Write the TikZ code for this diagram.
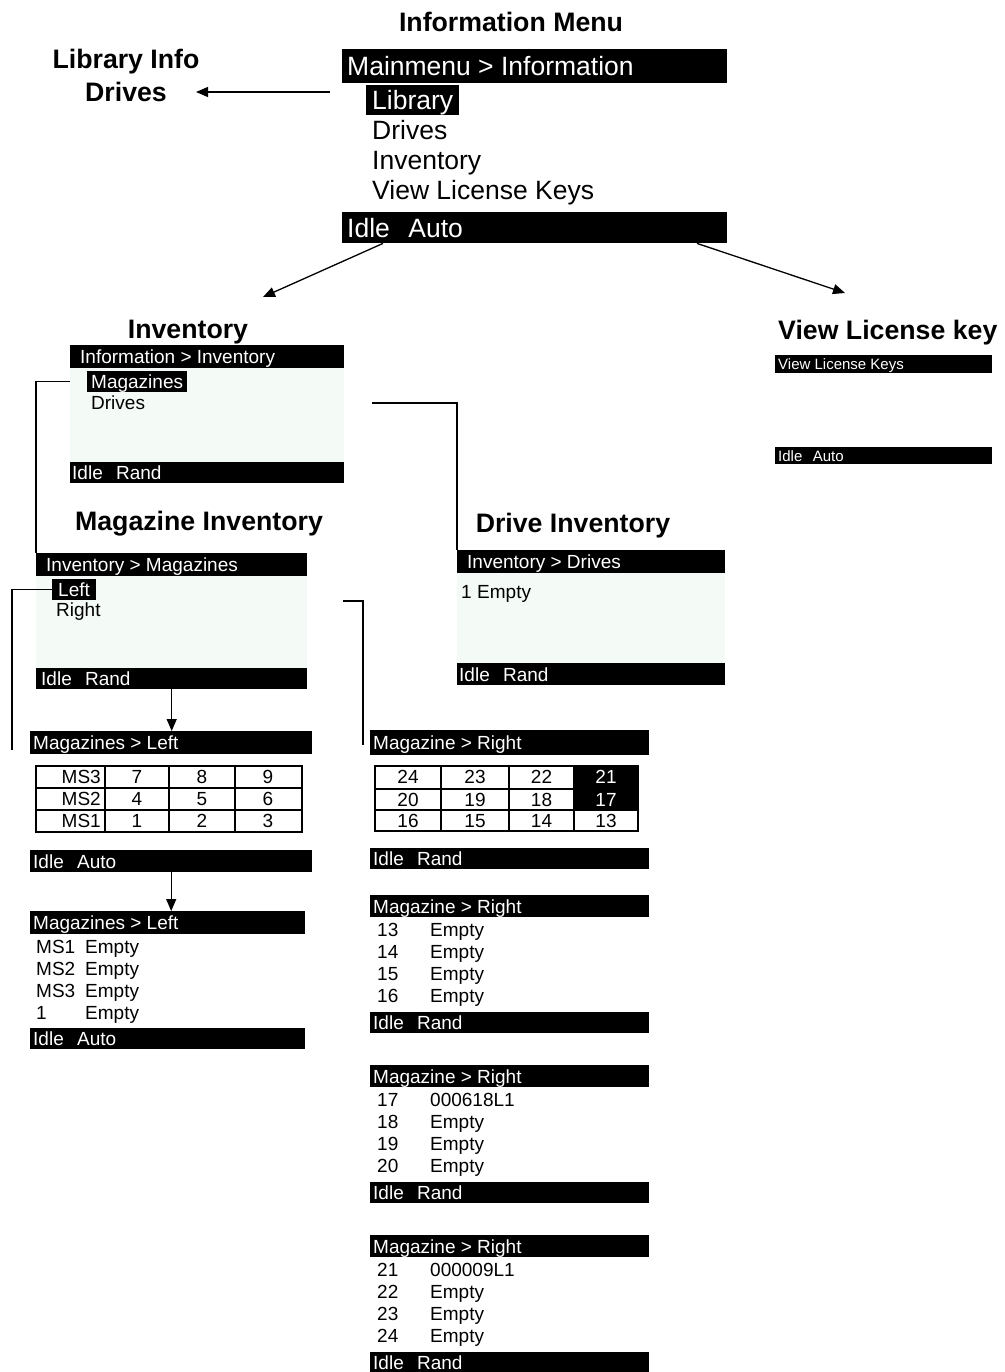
\documentclass[tikz,border=0pt]{standalone}
\usepackage{fontspec}
\setmainfont{Liberation Sans}
\usetikzlibrary{arrows.meta}
\definecolor{scrbg}{RGB}{244,250,245}
\newcommand\fH{\fontsize{26.7pt}{30pt}\selectfont\bfseries}
\newcommand\fB{\fontsize{26.5pt}{30pt}\selectfont}
\newcommand\fM{\fontsize{19pt}{22pt}\selectfont}
\newcommand\fS{\fontsize{15pt}{17pt}\selectfont}
\newcommand\idlegap{\hspace{0.7em}}
\newcommand\mkbar[8]{%
  \node[barbox,minimum width=#4pt,minimum height=#5pt] (#1) at (#2,#3) {};
  \node[bartext,#7] (#1-t) at ([xshift=#6pt]#1.west) {#8};}
\begin{document}
\begin{tikzpicture}[x=1pt,y=-1pt,
  szB/.style={font=\fB,text height=21pt,text depth=2pt},
  szM/.style={font=\fM,text height=15pt,text depth=1.4pt},
  szS/.style={font=\fS,text height=11pt,text depth=0pt},
  barbox/.style={fill=black,draw=none,anchor=north west,inner sep=0pt},
  bartext/.style={text=white,anchor=west,inner sep=0pt},
  body/.style={fill=scrbg,draw=none,anchor=north west,inner sep=0pt},
  head/.style={font=\fH,inner sep=0pt,text height=22pt,text depth=2pt},
  st/.style={anchor=west,inner sep=0pt},
  hl/.style={fill=black,text=white,anchor=west,inner xsep=4pt,inner ysep=2.3pt},
  conn/.style={line width=1.3pt},
  arr/.style={line width=1.3pt,-{Triangle[length=12pt,width=10pt]}},
  cell/.style={anchor=center,inner sep=0pt,szM},
  grid/.style={line width=1.3pt}]
\useasboundingbox (0,0) rectangle (1004,1372);

% ---------------- Information menu ----------------
\node[head] (hInfo) at (511,22) {Information Menu};
\node[head] (hLib) at (126,59) {Library Info};
\node[head] (hDrv) at (126,92) {Drives};

\mkbar{mmT}{342}{49}{385}{34}{5}{szB}{Mainmenu > Information}
\node[hl,szB,inner xsep=6pt,inner ysep=3.5pt] (mmLib) at (366,100) {Library};
\node[st,szB] (mmDrv) at (372,130) {Drives};
\node[st,szB] (mmInv) at (372,160) {Inventory};
\node[st,szB] (mmVLK) at (372,190) {View License Keys};
\mkbar{mmB}{342}{212}{385}{31}{5}{szB}{Idle\idlegap Auto}

\coordinate (a1s) at (330,92);
\draw[arr] (a1s) -- ([xshift=29pt]hDrv.east);
\coordinate (a2e) at (263,297);
\coordinate (a3e) at (845,293);
\draw[arr] ([xshift=41pt]mmB.south west) -- (a2e);
\draw[arr] ([xshift=355pt]mmB.south west) -- (a3e);

% ---------------- Inventory ----------------
\node[head] (hInv) at (188,328) {Inventory};
\mkbar{invT}{70}{345}{274}{23}{10}{szM}{Information > Inventory}
\node[body,minimum width=274pt,minimum height=94pt] (invBody) at (70,368) {};
\node[hl,szM] (invMag) at (87,381.5) {Magazines};
\node[st,szM] (invDrv) at (91,403) {Drives};
\mkbar{invB}{70}{462}{274}{21}{2}{szM}{Idle\idlegap Rand}

% ---------------- View License key ----------------
\node[head,anchor=west] (hLic) at (778,329) {View License key};
\mkbar{licT}{775}{355}{217}{18}{3}{szS}{View License Keys}
\mkbar{licB}{775}{447}{217}{17}{3}{szS}{Idle\idlegap Auto}

% ---------------- Magazine Inventory ----------------
\node[head] (hMag) at (199,520) {Magazine Inventory};
\mkbar{magT}{36}{553}{271}{23}{10}{szM}{Inventory > Magazines}
\node[body,minimum width=271pt,minimum height=92pt] (magBody) at (36,576) {};
\node[hl,szM,inner xsep=6pt] (magLeft) at (52,589.5) {Left};
\node[st,szM] (magRight) at (56,610) {Right};
\mkbar{magB}{36}{668}{271}{21}{5}{szM}{Idle\idlegap Rand}

\draw[conn] (invBody.west |- invMag.west) -| (magT.north west);

\coordinate (cL) at (12,750);
\draw[conn] (magLeft.west) -| (cL);
\coordinate (cRa) at (343,601);
\coordinate (cRb) at (363,745);
\draw[conn] (cRa) -| (cRb);

% ---------------- Drive Inventory ----------------
\node[head] (hDrvInv) at (573,522) {Drive Inventory};
\mkbar{drvT}{457}{550}{268}{23}{10}{szM}{Inventory > Drives}
\node[body,minimum width=268pt,minimum height=90pt] (drvBody) at (457,573) {};
\node[st,szM] (drv1) at (461,592) {1};
\node[st,szM] (drv1e) at (477,592) {Empty};
\mkbar{drvB}{457}{663}{268}{22}{2}{szM}{Idle\idlegap Rand}

\draw[conn] ([xshift=28pt]invBody.east |- invDrv.west) -| (drvT.north west);

% ---------------- Magazines > Left (table) ----------------
\mkbar{mlT}{30}{731}{282}{23}{3}{szM}{Magazines > Left}
\draw[grid] (36,766) rectangle (302,832);
\foreach \xx in {105,169,235} \draw[grid] (\xx,766) -- (\xx,832);
\foreach \yy in {788,810} \draw[grid] (36,\yy) -- (302,\yy);
\foreach \r/\yy/\ms/\a/\b/\c in {1/777/MS3/7/8/9,2/799/MS2/4/5/6,3/821/MS1/1/2/3}{
  \node[cell,anchor=east] (ml-\r-0) at (101,\yy) {\ms};
  \node[cell] (ml-\r-1) at (137,\yy) {\a};
  \node[cell] (ml-\r-2) at (202,\yy) {\b};
  \node[cell] (ml-\r-3) at (268,\yy) {\c};
}
\mkbar{mlB}{30}{850}{282}{22}{3}{szM}{Idle\idlegap Auto}
\draw[arr] (magB.south) -- (magB.south |- mlT.north);

% ---------------- Magazines > Left (list) ----------------
\mkbar{mlsT}{30}{911}{275}{23}{3}{szM}{Magazines > Left}
\foreach \r/\yy/\lab in {1/947/MS1,2/969/MS2,3/991/MS3,4/1013/1}{
  \node[st,szM] (mls-\r-a) at (36,\yy) {\lab};
  \node[st,szM] (mls-\r-b) at (85,\yy) {Empty};
}
\mkbar{mlsB}{30}{1028}{275}{21}{3}{szM}{Idle\idlegap Auto}
\draw[arr] (mlB.south) -- (mlB.south |- mlsT.north);

% ---------------- Magazine > Right (table) ----------------
\mkbar{mr1T}{370}{730}{279}{25}{3}{szM}{Magazine > Right}
\draw[grid] (375,766) rectangle (638,831);
\foreach \xx in {441,509,574} \draw[grid] (\xx,766) -- (\xx,831);
\foreach \yy in {789,810} \draw[grid] (375,\yy) -- (638,\yy);
\fill[black] (574,766) rectangle (638,810);
\foreach \r/\yy/\a/\b/\c/\d/\dc in {1/777/24/23/22/21/white,2/799.5/20/19/18/17/white,3/820.5/16/15/14/13/black}{
  \node[cell] (mr-\r-1) at (408,\yy) {\a};
  \node[cell] (mr-\r-2) at (475,\yy) {\b};
  \node[cell] (mr-\r-3) at (541.5,\yy) {\c};
  \node[cell,text=\dc] (mr-\r-4) at (606,\yy) {\d};
}
\mkbar{mr1B}{370}{848}{279}{21}{3}{szM}{Idle\idlegap Rand}

% ---------------- Magazine > Right (lists) ----------------
\mkbar{mr2T}{370}{895}{279}{22}{3}{szM}{Magazine > Right}
\foreach \r/\yy/\n/\v in {1/930/13/Empty,2/952/14/Empty,3/974/15/Empty,4/996/16/Empty}{
  \node[st,szM] (mr2-\r-a) at (377,\yy) {\n};
  \node[st,szM] (mr2-\r-b) at (430,\yy) {\v};
}
\mkbar{mr2B}{370}{1012}{279}{21}{3}{szM}{Idle\idlegap Rand}

\mkbar{mr3T}{370}{1065}{279}{22}{3}{szM}{Magazine > Right}
\foreach \r/\yy/\n/\v in {1/1100/17/000618L1,2/1122/18/Empty,3/1144/19/Empty,4/1166/20/Empty}{
  \node[st,szM] (mr3-\r-a) at (377,\yy) {\n};
  \node[st,szM] (mr3-\r-b) at (430,\yy) {\v};
}
\mkbar{mr3B}{370}{1182}{279}{21}{3}{szM}{Idle\idlegap Rand}

\mkbar{mr4T}{370}{1235}{279}{22}{3}{szM}{Magazine > Right}
\foreach \r/\yy/\n/\v in {1/1270/21/000009L1,2/1292/22/Empty,3/1314/23/Empty,4/1336/24/Empty}{
  \node[st,szM] (mr4-\r-a) at (377,\yy) {\n};
  \node[st,szM] (mr4-\r-b) at (430,\yy) {\v};
}
\mkbar{mr4B}{370}{1352}{279}{20}{3}{szM}{Idle\idlegap Rand}
\end{tikzpicture}
\end{document}
